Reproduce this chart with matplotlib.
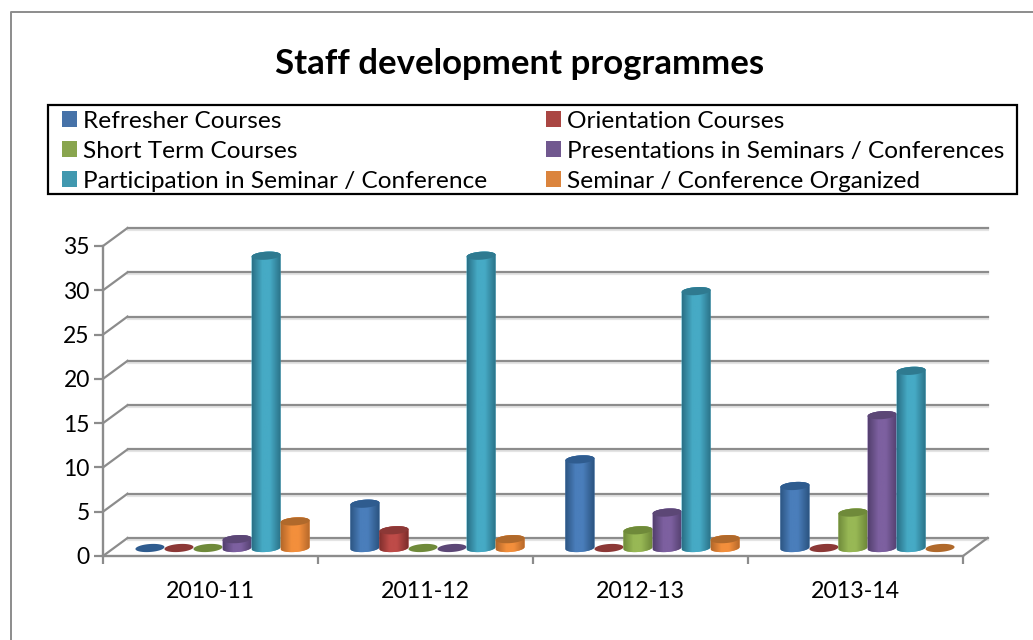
import numpy as np
import matplotlib
matplotlib.use("Agg")
import matplotlib.pyplot as plt
from matplotlib.colors import LinearSegmentedColormap
from matplotlib.lines import Line2D
from matplotlib.patches import PathPatch, Patch, Polygon, Rectangle
from matplotlib.path import Path
from matplotlib.transforms import Affine2D

plt.rcParams["font.family"] = ["Lato", "DejaVu Sans"]

# =========================
# DATA
# =========================
years = ["2010-11", "2011-12", "2012-13", "2013-14"]
series_names = ["Refresher Courses", "Orientation Courses", "Short Term Courses",
                "Presentations in Seminars / Conferences",
                "Participation in Seminar / Conference", "Seminar / Conference Organized"]
refresher = [0, 5, 10, 7]
orientation = [0, 2, 0, 0]
short_term = [0, 0, 2, 4]
presentations = [1, 0, 4, 15]
participation = [33, 33, 29, 20]
organized = [3, 1, 1, 0]
y_ticks = [0, 5, 10, 15, 20, 25, 30, 35]

# =========================
# STYLE
# =========================
all_series = [refresher, orientation, short_term, presentations, participation, organized]
# legend colour, bright middle of the cylinder, dark edge, top cap
colors = [("#4672a8", "#4a7ebb", "#2c5582", "#2f5c8f"),
          ("#aa4643", "#be4b48", "#7f2e2c", "#8c3836"),
          ("#89a54e", "#98b855", "#6f8a3a", "#6f8a3a"),
          ("#71588f", "#7d60a0", "#54406f", "#5c4776"),
          ("#4198af", "#46aac5", "#2a7187", "#2f7a90"),
          ("#db843d", "#f38f3c", "#b5682a", "#b0692b")]
grid_color = "#8c8c8c"
shadow_color = "#e4e4e4"
bar_w = 0.135
depth_x, depth_y = 24.5, 18      # pixels from front to back wall
cap_h = 8 / 8.857                # cap height in y units
cap_tilt = 0.11

fig = plt.figure(figsize=(10.33, 6.40), dpi=100, facecolor="white")
ax = fig.add_axes([103 / 1033, 84 / 640, 860 / 1033, 310 / 640])
ax.set_facecolor("none")

n = len(years)
ax.set_xlim(0, n)
ax.set_ylim(0, 35)

back = ax.transData + Affine2D().translate(depth_x, depth_y)
mid = ax.transData + Affine2D().translate(12, 8)
back_shadow = ax.transData + Affine2D().translate(depth_x, depth_y - 2)


def ellipse(xc, v, start, end):
    t = np.linspace(start, end, 40)
    return np.column_stack([xc + bar_w / 2 * np.cos(t),
                            v + cap_h / 2 * np.sin(t) + cap_tilt * np.cos(t)])


# =========================
# WALLS
# =========================
for v in y_ticks:
    ax.plot([0, n], [v, v], color=shadow_color, lw=1.6, transform=back_shadow, clip_on=False, zorder=1)
    ax.plot([0, n], [v, v], color=grid_color, lw=1.6, transform=back, clip_on=False, zorder=1.2)
    # diagonal on the side wall
    x0, y0 = ax.transData.transform((0, v))
    fig.add_artist(Line2D([x0, x0 + depth_x], [y0, y0 + depth_y], color=grid_color, lw=1.6,
                          transform=None, zorder=1.2))

x0, y0 = ax.transData.transform((n, 0))
fig.add_artist(Line2D([x0, x0 + depth_x], [y0, y0 + depth_y], color=grid_color, lw=1.6,
                      transform=None, zorder=1.2))

# =========================
# CYLINDERS
# =========================
for j, values in enumerate(all_series):
    _, bright, dark, top = colors[j]
    cmap = LinearSegmentedColormap.from_list(
        "c", [(0, dark), (0.35, bright), (0.6, bright), (0.97, dark), (1, dark)])
    for i, v in enumerate(values):
        xc = i + 0.5 + (j - 2.5) * bar_w
        z = 3 + j * 0.1 + i
        if v > 0:
            outline = np.vstack([ellipse(xc, 0, np.pi, 2 * np.pi), ellipse(xc, v, 0, np.pi)])
            body = PathPatch(Path(np.vstack([outline, outline[0]]), closed=True),
                             transform=mid, facecolor=bright, edgecolor="none", zorder=z)
            ax.add_patch(body)
            img = ax.imshow(np.linspace(0, 1, 64).reshape(1, -1), cmap=cmap, aspect="auto",
                            extent=(xc - bar_w / 2, xc + bar_w / 2, -1, v + 1),
                            transform=mid, zorder=z + 0.01)
            img.set_clip_path(body)
        ax.add_patch(Polygon(ellipse(xc, v, 0, 2 * np.pi), closed=True, transform=mid,
                             facecolor=top, edgecolor="none", zorder=z + 0.02))

# =========================
# AXES
# =========================
ax.set_xlim(0, n)
ax.set_ylim(0, 35)
ax.set_yticks(y_ticks)
ax.set_xticks(range(n + 1))
ax.set_xticklabels([])
ax.set_xticks(np.arange(n) + 0.5, minor=True)
ax.set_xticklabels(years, minor=True, fontsize=16.7)
ax.tick_params(axis="x", which="minor", length=0, pad=18)
ax.tick_params(axis="x", which="major", length=6, width=1.6, color=grid_color)
ax.tick_params(axis="y", length=6.5, width=1.6, color=grid_color, labelsize=16.5, pad=3)
for side in ["top", "right"]:
    ax.spines[side].set_visible(False)
for side in ["left", "bottom"]:
    ax.spines[side].set_color(grid_color)
    ax.spines[side].set_linewidth(1.7)

# =========================
# TITLE, LEGEND, BORDER
# =========================
fig.text(520 / 1033, 1 - 64 / 640, "Staff development programmes", fontsize=25, fontweight="bold",
         ha="center", va="center", color="black")

fig.add_artist(Rectangle((48 / 1033, 1 - 194 / 640), 969 / 1033, 89 / 640, transform=fig.transFigure,
                         facecolor="white", edgecolor="black", lw=1.6))

handles = [Patch(facecolor=c[0], edgecolor="none") for c in colors]
# matplotlib fills legends by column, the reference reads by row
order = [0, 2, 4, 1, 3, 5]
fig.legend([handles[k] for k in order], [series_names[k] for k in order], ncol=2,
           loc="upper left", bbox_to_anchor=(62 / 1033, 1 - 111 / 640),
           borderaxespad=0, borderpad=0, fontsize=17.6, frameon=False,
           handlelength=0.62, handleheight=0.62, handletextpad=0.25,
           labelspacing=0.36, columnspacing=2.4)

fig.add_artist(Line2D([11 / 1033, 11 / 1033, 1], [0, 1 - 12 / 640, 1 - 12 / 640],
                      color="#8c8c8c", lw=1.4, transform=fig.transFigure))

fig.savefig("out.png", dpi=100, facecolor="white")
plt.close(fig)
